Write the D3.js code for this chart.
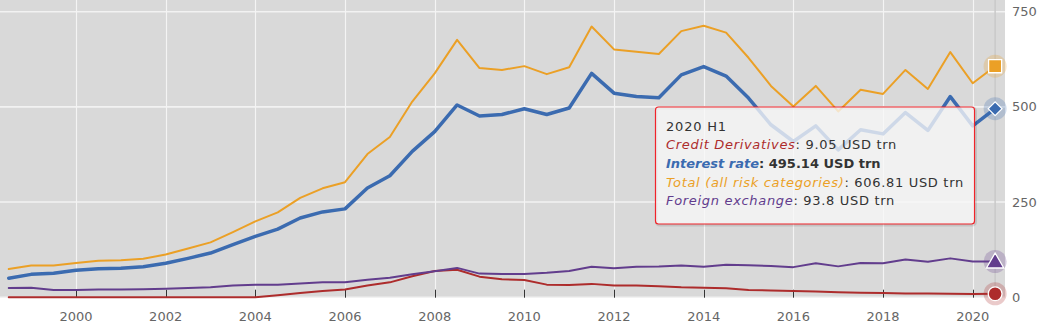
<!DOCTYPE html>
<html>
<head>
<meta charset="utf-8">
<script src="https://cdn.jsdelivr.net/npm/d3@7/dist/d3.min.js"></script>
<style>
  html, body { margin: 0; padding: 0; background: #ffffff; }
  svg { display: block; font-family: "DejaVu Sans", Verdana, sans-serif; }
</style>
</head>
<body>
<svg id="chart" width="1048" height="332"></svg>
<script>
// ---- data (semi-annual, USD trn) ----
const periods = [
  "1998 H1","1998 H2","1999 H1","1999 H2","2000 H1","2000 H2","2001 H1","2001 H2",
  "2002 H1","2002 H2","2003 H1","2003 H2","2004 H1","2004 H2","2005 H1","2005 H2",
  "2006 H1","2006 H2","2007 H1","2007 H2","2008 H1","2008 H2","2009 H1","2009 H2",
  "2010 H1","2010 H2","2011 H1","2011 H2","2012 H1","2012 H2","2013 H1","2013 H2",
  "2014 H1","2014 H2","2015 H1","2015 H2","2016 H1","2016 H2","2017 H1","2017 H2",
  "2018 H1","2018 H2","2019 H1","2019 H2","2020 H1"
];
const creditDerivatives = [
  0,0,0,0,0,0,0,0,
  0,0,0,0,5,11,16,20,
  31,39,55,69,72,54,47,45,
  33,32,35,31,31,29,26,24.6,
  23.6,19,17.5,16,15,13,12,11,
  10,9.5,9,8.5,9.05
];
const interestRate = [
  50,60,63,71,75,76,80,89,
  102,116,138,160,179,208,224,232,
  287,319,383,435,505,476,480,495,
  480,497,588,536,527,524,584,606,
  581,523,453,409,450,387,440,429,
  485,438,527,450,495.14
];
const totalAll = [
  74,83,83,90,96,97,101,112,
  128,144,171,199,223,261,286,302,
  376,421,514,588,676,602,597,607,
  586,604,711,651,645,639,699,713,
  695,629,555,501,555,488,545,534,
  597,547,644,562,606.81
];
const foreignExchange = [
  24,25,19,19,20,20,21,22,
  24,26,31,33,33,36,39,39,
  46,51,60,68,77,62,61,61,
  64,69,80,76,80,80.5,83,80,
  85,84,82,79,89,81,90,89,
  99,93,102,94,93.8
];
const yTicks = [0, 250, 500, 750];
const xTicks = [2000, 2002, 2004, 2006, 2008, 2010, 2012, 2014, 2016, 2018, 2020];

const seriesList = [
  { name: "Credit Derivatives", values: creditDerivatives, color: "#ad2c2c", width: 2, marker: "circle" },
  { name: "Total (all risk categories)", values: totalAll, color: "#eba026", width: 2, marker: "square" },
  { name: "Foreign exchange", values: foreignExchange, color: "#623d8d", width: 2, marker: "triangle" },
  { name: "Interest rate", values: interestRate, color: "#3b6bb0", width: 3.5, marker: "diamond", hovered: true }
];
const tooltipOrder = ["Credit Derivatives", "Interest rate", "Total (all risk categories)", "Foreign exchange"];

// ---- layout ----
const svg = d3.select("#chart");
const plot = { left: 0, top: 0, right: 1005, bottom: 297.7 };

const toYear = p => { const [y, h] = p.split(" "); return +y + (h === "H1" ? 0.5 : 1.0); };

const x = d3.scaleLinear().domain([2000, 2020]).range([76, 972.7]);
const y = d3.scaleLinear().domain([0, 750]).range([297.2, 11.7]);

// background
svg.append("rect").attr("x", plot.left).attr("y", plot.top)
  .attr("width", plot.right - plot.left).attr("height", plot.bottom - plot.top)
  .attr("fill", "#d9d9d9");

// horizontal gridlines
svg.append("g").selectAll("line").data(yTicks).join("line")
  .attr("x1", plot.left).attr("x2", plot.right)
  .attr("y1", d => y(d)).attr("y2", d => y(d))
  .attr("stroke", "#f2f2f2").attr("stroke-width", 1.6);

// vertical gridlines
svg.append("g").selectAll("line").data(xTicks).join("line")
  .attr("x1", d => Math.round(x(d)) + 0.5).attr("x2", d => Math.round(x(d)) + 0.5)
  .attr("y1", plot.top).attr("y2", plot.bottom)
  .attr("stroke", "#f4f4f4").attr("stroke-width", 1.2);

// crosshair
const lastX = x(toYear(periods[periods.length - 1]));
svg.append("line").attr("x1", lastX).attr("x2", lastX)
  .attr("y1", plot.top).attr("y2", plot.bottom)
  .attr("stroke", "#c9c9c9").attr("stroke-width", 1.5);

// x ticks
svg.append("g").selectAll("line").data(xTicks).join("line")
  .attr("x1", d => Math.round(x(d)) + 0.5).attr("x2", d => Math.round(x(d)) + 0.5)
  .attr("y1", plot.bottom - 8).attr("y2", plot.bottom)
  .attr("stroke", "#333").attr("stroke-width", 1);

// x labels
svg.append("g").selectAll("text").data(xTicks).join("text")
  .attr("x", d => x(d)).attr("y", 321)
  .attr("text-anchor", "middle")
  .attr("font-size", 13).attr("fill", "#666")
  .text(d => d);

// y labels (right)
svg.append("g").selectAll("text").data(yTicks).join("text")
  .attr("x", 1012).attr("y", d => y(d) + 4.6)
  .attr("text-anchor", "start")
  .attr("font-size", 13).attr("fill", "#666")
  .text(d => d);

// lines
const line = d3.line()
  .x((d, i) => x(toYear(periods[i])))
  .y(d => y(d));

const gLines = svg.append("g");
seriesList.forEach(s => {
  gLines.append("path")
    .datum(s.values)
    .attr("d", line)
    .attr("fill", "none")
    .attr("stroke", s.color)
    .attr("stroke-width", s.width)
    .attr("stroke-linejoin", "round")
    .attr("stroke-linecap", "round");
});

// hover markers
const gMarkers = svg.append("g");
seriesList.forEach(s => {
  const v = s.values[s.values.length - 1];
  const cx = lastX, cy = y(v);
  gMarkers.append("circle").attr("cx", cx).attr("cy", cy).attr("r", 11.5)
    .attr("fill", s.color).attr("fill-opacity", 0.25);
  const sym = { circle: d3.symbolCircle, square: d3.symbolSquare, triangle: d3.symbolTriangle, diamond: d3.symbolDiamond }[s.marker];
  const size = { circle: 150, square: 170, triangle: 130, diamond: 150 }[s.marker];
  let t = `translate(${cx},${cy})`;
  if (s.marker === "diamond") t += " rotate(45) scale(0.8)";
  if (s.marker === "triangle") t = `translate(${cx},${cy + 1.5})`;
  gMarkers.append("path")
    .attr("d", d3.symbol().type(s.marker === "diamond" ? d3.symbolSquare : sym).size(size)())
    .attr("transform", t)
    .attr("fill", s.color)
    .attr("stroke", "#ffffff").attr("stroke-width", s.marker === "diamond" ? 1.5 : 1.3);
});

// tooltip
const tip = svg.append("g");
const box = { x: 655.5, y: 107, w: 319, h: 117 };
tip.append("rect").attr("x", box.x + 1).attr("y", box.y + 1).attr("width", box.w).attr("height", box.h)
  .attr("rx", 3).attr("fill", "none").attr("stroke", "#000").attr("stroke-opacity", 0.1).attr("stroke-width", 3);
tip.append("rect").attr("x", box.x).attr("y", box.y).attr("width", box.w).attr("height", box.h)
  .attr("rx", 3).attr("fill", "rgb(247,247,247)").attr("fill-opacity", 0.78)
  .attr("stroke", "#f0242a").attr("stroke-width", 1.2);

const lastIdx = periods.length - 1;
const tText = tip.append("text").attr("font-size", 13).attr("fill", "#333");
tText.append("tspan").attr("x", 666).attr("y", 130.5).attr("letter-spacing", 0.8).text(periods[lastIdx]);
tooltipOrder.forEach((nm, i) => {
  const s = seriesList.find(d => d.name === nm);
  const ty = 149.2 + i * 18.7;
  const bold = s.hovered ? "bold" : "normal";
  const ls = s.hovered ? 0 : 0.68;
  tText.append("tspan").attr("x", 666).attr("y", ty)
    .attr("font-style", "italic").attr("font-weight", bold).attr("fill", s.color)
    .attr("letter-spacing", ls)
    .text(nm);
  tText.append("tspan").attr("fill", "#333").attr("font-weight", bold)
    .attr("letter-spacing", ls)
    .text(": " + s.values[lastIdx] + " USD trn");
});
</script>
</body>
</html>
